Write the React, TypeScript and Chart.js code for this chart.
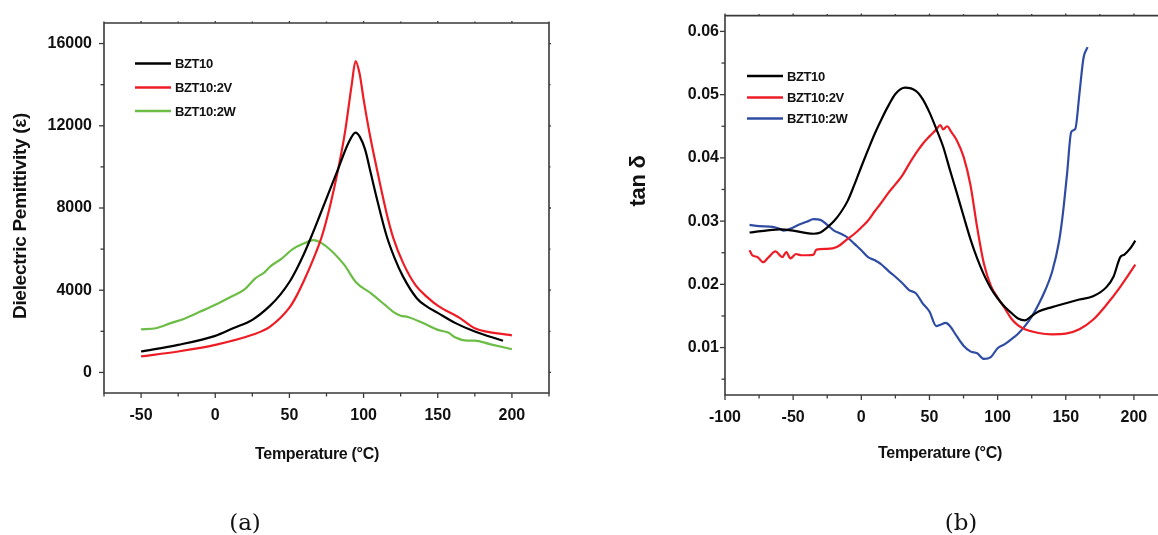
import React, { useEffect, useRef } from "react";
import { Chart, registerables } from "chart.js";
Chart.register(...registerables);

// ---------- Panel (a): Dielectric permittivity ----------
const tempA_BZT10 = [-50, -25, 0, 12, 25, 37, 44, 50, 55, 60, 65, 70, 76, 83, 89.7, 94.6, 97.5, 101, 105, 108.8, 115.5, 121, 126.7, 136, 142.5, 150, 162, 175, 194];
const epsA_BZT10 = [1020, 1340, 1780, 2150, 2560, 3250, 3800, 4400, 5050, 5800, 6650, 7550, 8650, 9930, 11150, 11670, 11460, 10850, 9650, 8500, 6650, 5550, 4650, 3600, 3210, 2900, 2400, 1990, 1540];

const tempA_2V = [-50, -25, 0, 25, 37, 50, 55, 60, 64, 68, 72, 77.4, 83, 87.5, 92, 94.6, 97.3, 100, 104, 108.8, 115.5, 120, 126.7, 135, 142.5, 150, 165, 175, 200];
const epsA_2V = [780, 1020, 1340, 1830, 2230, 3150, 3750, 4500, 5150, 5850, 6650, 8100, 9930, 11700, 14000, 15150, 14540, 13300, 11650, 9950, 7750, 6550, 5320, 4250, 3690, 3250, 2640, 2150, 1800];

const tempA_2W = [-50, -40, -30, -20, -10, 0, 10, 20, 27, 33, 37, 45, 52, 60, 66, 72, 80, 87, 95, 105, 115, 120, 125, 130, 140, 150, 157, 162, 170, 175, 185, 200];
const epsA_2W = [2100, 2150, 2400, 2640, 2960, 3290, 3660, 4050, 4580, 4860, 5150, 5550, 5990, 6280, 6440, 6280, 5800, 5230, 4380, 3850, 3250, 2950, 2760, 2700, 2400, 2070, 1940, 1700, 1550, 1550, 1380, 1130];

const xTicksA = [-50, 0, 50, 100, 150, 200];
const xMinorA = [-75, -25, 25, 75, 125, 175, 225];
const yTicksA = [0, 4000, 8000, 12000, 16000];
const yMinorA = [2000, 6000, 10000, 14000];

// ---------- Panel (b): tan delta ----------
const tempB_BZT10 = [-82, -70, -60, -50, -40, -35, -30, -25, -20, -15, -10, -5, 0, 5, 10, 15, 20, 25, 32, 40, 45, 50, 55, 60, 65, 70, 75, 80, 85, 90, 95, 100, 105, 110, 115, 120, 125, 130, 140, 150, 160, 170, 180, 185, 190, 193, 197, 201];
const tanB_BZT10 = [0.0282, 0.0285, 0.0287, 0.0285, 0.0281, 0.028, 0.0282, 0.029, 0.03, 0.0314, 0.0332, 0.0358, 0.0386, 0.0413, 0.0439, 0.0462, 0.0483, 0.0501, 0.0511, 0.0506, 0.0493, 0.0472, 0.0446, 0.0418, 0.0381, 0.0345, 0.0308, 0.0272, 0.0241, 0.0215, 0.0194, 0.0178, 0.0165, 0.0155, 0.0146, 0.0143, 0.015, 0.0157, 0.0164, 0.017, 0.0176, 0.0181, 0.0196, 0.0212, 0.0243, 0.0247, 0.0256, 0.0269];

const tempB_2V = [-82, -80, -76, -72, -68, -63, -58, -55, -52, -48, -44, -40, -35, -33, -25, -18, -10, -5, 0, 5, 10, 15, 20, 25, 30, 35, 40, 45, 50, 55, 58, 60, 63, 66, 70, 75, 80, 85, 90, 95, 100, 105, 110, 115, 120, 130, 140, 150, 160, 170, 180, 190, 201];
const tanB_2V = [0.0254, 0.0246, 0.0243, 0.0235, 0.0243, 0.0252, 0.0243, 0.0251, 0.0241, 0.0248, 0.0246, 0.0246, 0.0247, 0.0255, 0.0256, 0.0259, 0.0272, 0.028, 0.029, 0.0301, 0.0316, 0.033, 0.0345, 0.0358, 0.0372, 0.039, 0.0407, 0.0422, 0.0434, 0.0445, 0.0452, 0.0445, 0.045, 0.0441, 0.0428, 0.0402, 0.0358, 0.029, 0.0232, 0.0198, 0.0179, 0.0163, 0.0146, 0.0135, 0.0129, 0.0123, 0.0121, 0.0122, 0.0129, 0.0144, 0.0168, 0.0196, 0.0231];

const tempB_2W = [-82, -75, -65, -60, -57, -50, -45, -40, -35, -30, -25, -20, -15, -10, -5, 0, 5, 10, 15, 20, 25, 30, 35, 40, 45, 50, 55, 58, 62, 65, 70, 75, 80, 85, 90, 95, 100, 105, 110, 115, 120, 125, 130, 135, 140, 145, 148, 151, 154, 157, 160, 163, 166];
const tanB_2W = [0.0294, 0.0292, 0.0291, 0.0288, 0.0285, 0.029, 0.0295, 0.0299, 0.0303, 0.0302, 0.0294, 0.0285, 0.028, 0.0274, 0.0264, 0.0254, 0.0243, 0.0238, 0.0231, 0.0221, 0.0212, 0.0202, 0.0191, 0.0186, 0.017, 0.0157, 0.0134, 0.0136, 0.0139, 0.0134, 0.0118, 0.0103, 0.0094, 0.0091, 0.0082, 0.0085, 0.0099, 0.0105, 0.0113, 0.0122, 0.0134, 0.0149, 0.0168, 0.0191, 0.022, 0.0267, 0.0314, 0.0376, 0.0441, 0.0446, 0.0501, 0.0558, 0.0575];

const xTicksB = [-100, -50, 0, 50, 100, 150, 200];
const xMinorB = [-75, -25, 25, 75, 125, 175];
const yTicksB = [0.01, 0.02, 0.03, 0.04, 0.05, 0.06];
const yMinorB = [0.005, 0.015, 0.025, 0.035, 0.045, 0.055];

const seriesLabels = ["BZT10", "BZT10:2V", "BZT10:2W"];
const BLACK = "#000000";
const RED = "#ee1c24";
const GREEN = "#6cbd45";
const BLUE = "#2f4ca3";

const FONT = '"Liberation Sans", Arial, sans-serif';

const pts = (xs: number[], ys: number[]) => xs.map((x, i) => ({ x, y: ys[i] }));

type Decor = {
  xMajor: number[];
  xMinor: number[];
  yMajor: number[];
  yMinor: number[];
  legendX0: number;
  legendX1: number;
  legendTextX: number;
  legendY: number[];
  xTitle: string;
  xTitleX: number;
  xTitleY: number;
  yTitle: string;
  yTitleX: number;
  yTitleY: number;
  yTitleSize: number;
};

function decorPlugin(p: Decor) {
  return {
    id: "decor",
    afterDraw(chart: any) {
      const { ctx, chartArea: a } = chart;
      const xs = chart.scales.x;
      const ys = chart.scales.y;
      ctx.save();
      const seg = (x1: number, y1: number, x2: number, y2: number) => {
        ctx.beginPath();
        ctx.moveTo(x1, y1);
        ctx.lineTo(x2, y2);
        ctx.stroke();
      };
      ctx.strokeStyle = "#3a3a3a";
      ctx.lineWidth = 1.6;
      ctx.beginPath();
      ctx.rect(a.left, a.top, a.right - a.left, a.bottom - a.top);
      ctx.stroke();
      ctx.lineWidth = 1.3;
      p.xMajor.forEach((v) => {
        const px = xs.getPixelForValue(v);
        seg(px, a.bottom, px, a.bottom + 5);
        seg(px, a.top, px, a.top - 2);
      });
      p.xMinor.forEach((v) => {
        const px = xs.getPixelForValue(v);
        if (px < a.left || px > a.right) return;
        seg(px, a.bottom, px, a.bottom + 3.5);
        seg(px, a.top, px, a.top - 1.5);
      });
      p.yMajor.forEach((v) => {
        const py = ys.getPixelForValue(v);
        seg(a.left - 5, py, a.left, py);
        seg(a.right, py, a.right + 2, py);
      });
      p.yMinor.forEach((v) => {
        const py = ys.getPixelForValue(v);
        if (py < a.top || py > a.bottom) return;
        seg(a.left - 3.5, py, a.left, py);
        seg(a.right, py, a.right + 1.5, py);
      });

      // legend
      ctx.font = `bold 13px ${FONT}`;
      (ctx as any).letterSpacing = "-0.4px";
      ctx.textBaseline = "middle";
      ctx.textAlign = "left";
      ctx.fillStyle = "#111";
      chart.data.datasets.forEach((ds: any, i: number) => {
        const y = p.legendY[i];
        ctx.strokeStyle = ds.borderColor;
        ctx.lineWidth = 2.6;
        seg(p.legendX0, y, p.legendX1, y);
        ctx.fillText(ds.label, p.legendTextX, y + 1);
      });

      // axis titles
      (ctx as any).letterSpacing = "-0.3px";
      ctx.fillStyle = "#111";
      ctx.font = `bold 16px ${FONT}`;
      ctx.textAlign = "center";
      ctx.fillText(p.xTitle, p.xTitleX, p.xTitleY);
      ctx.translate(p.yTitleX, p.yTitleY);
      ctx.rotate(-Math.PI / 2);
      ctx.font = `bold ${p.yTitleSize}px ${FONT}`;
      ctx.fillText(p.yTitle, 0, 0);
      ctx.restore();
    },
  };
}

function makeConfig(opts: {
  datasets: any[];
  xMin: number;
  xMax: number;
  yMin: number;
  yMax: number;
  xTicks: number[];
  yTicks: number[];
  yFmt: (v: number) => string;
  yWidth: number;
  xHeight: number;
  padTop: number;
  padRight: number;
  yPad: number;
  decor: Decor;
}): any {
  const tickFont = { family: FONT, size: 16, weight: "bold" as const };
  return {
    type: "line",
    data: { datasets: opts.datasets },
    options: {
      animation: false,
      responsive: false,
      maintainAspectRatio: false,
      parsing: false,
      layout: { padding: { left: 0, right: opts.padRight, top: opts.padTop, bottom: 0 } },
      plugins: { legend: { display: false }, tooltip: { enabled: false } },
      elements: {
        point: { radius: 0 },
        line: { borderWidth: 2.2, cubicInterpolationMode: "monotone" },
      },
      scales: {
        x: {
          type: "linear",
          min: opts.xMin,
          max: opts.xMax,
          grid: { display: false, drawTicks: false },
          border: { display: false },
          afterFit: (s: any) => {
            s.height = opts.xHeight;
          },
          afterBuildTicks: (s: any) => {
            s.ticks = opts.xTicks.map((v) => ({ value: v }));
          },
          ticks: {
            font: tickFont,
            color: "#111",
            padding: 13,
            maxRotation: 0,
            autoSkip: false,
            callback: (v: number) => String(v),
          },
        },
        y: {
          type: "linear",
          min: opts.yMin,
          max: opts.yMax,
          grid: { display: false, drawTicks: false },
          border: { display: false },
          afterFit: (s: any) => {
            s.width = opts.yWidth;
          },
          afterBuildTicks: (s: any) => {
            s.ticks = opts.yTicks.map((v) => ({ value: v }));
          },
          ticks: {
            font: tickFont,
            color: "#111",
            padding: opts.yPad,
            autoSkip: false,
            callback: (v: number) => opts.yFmt(v),
          },
        },
      },
    },
    plugins: [decorPlugin(opts.decor)],
  };
}

export default function App() {
  const refA = useRef<HTMLCanvasElement>(null);
  const refB = useRef<HTMLCanvasElement>(null);

  useEffect(() => {
    const cfgA = makeConfig({
      datasets: [
        { label: seriesLabels[0], data: pts(tempA_BZT10, epsA_BZT10), borderColor: BLACK },
        { label: seriesLabels[1], data: pts(tempA_2V, epsA_2V), borderColor: RED },
        { label: seriesLabels[2], data: pts(tempA_2W, epsA_2W), borderColor: GREEN },
      ],
      xMin: -75,
      xMax: 225,
      yMin: -1000,
      yMax: 17000,
      xTicks: xTicksA,
      yTicks: yTicksA,
      yFmt: (v) => String(v),
      yWidth: 104,
      xHeight: 142,
      padTop: 23,
      padRight: 31,
      yPad: 12,
      decor: {
        xMajor: xTicksA,
        xMinor: xMinorA,
        yMajor: yTicksA,
        yMinor: yMinorA,
        legendX0: 135,
        legendX1: 171,
        legendTextX: 175,
        legendY: [63.5, 87.5, 111],
        xTitle: "Temperature (°C)",
        xTitleX: 317,
        xTitleY: 455,
        yTitle: "Dielectric Pemittivity (ε)",
        yTitleX: 21,
        yTitleY: 216,
        yTitleSize: 19,
      },
    });
    const cfgB = makeConfig({
      datasets: [
        { label: seriesLabels[0], data: pts(tempB_BZT10, tanB_BZT10), borderColor: BLACK },
        { label: seriesLabels[1], data: pts(tempB_2V, tanB_2V), borderColor: RED },
        { label: seriesLabels[2], data: pts(tempB_2W, tanB_2W), borderColor: BLUE },
      ],
      xMin: -100,
      xMax: 225,
      yMin: 0.0025,
      yMax: 0.0625,
      xTicks: xTicksB,
      yTicks: yTicksB,
      yFmt: (v) => v.toFixed(2),
      yWidth: 145,
      xHeight: 140,
      padTop: 12,
      padRight: 32,
      yPad: 6,
      decor: {
        xMajor: xTicksB,
        xMinor: xMinorB,
        yMajor: yTicksB,
        yMinor: yMinorB,
        legendX0: 167,
        legendX1: 203,
        legendTextX: 207,
        legendY: [76, 97.5, 118.5],
        xTitle: "Temperature (°C)",
        xTitleX: 360,
        xTitleY: 454,
        yTitle: "tan δ",
        yTitleX: 59,
        yTitleY: 181,
        yTitleSize: 22,
      },
    });
    const ca = new Chart(refA.current as HTMLCanvasElement, cfgA);
    const cb = new Chart(refB.current as HTMLCanvasElement, cfgB);
    return () => {
      ca.destroy();
      cb.destroy();
    };
  }, []);

  const capStyle: React.CSSProperties = {
    position: "absolute",
    top: 522,
    transform: "translate(-50%, -50%)",
    font: '23px "DejaVu Serif", serif',
    color: "#111",
    whiteSpace: "nowrap",
  };

  return (
    <div
      style={{
        position: "fixed",
        left: 0,
        top: 0,
        width: 1158,
        height: 535,
        overflow: "hidden",
        background: "#fff",
      }}
    >
      <canvas ref={refA} width={580} height={535} style={{ position: "absolute", left: 0, top: 0 }} />
      <canvas ref={refB} width={620} height={535} style={{ position: "absolute", left: 580, top: 0 }} />
      <div style={{ ...capStyle, left: 245 }}>(a)</div>
      <div style={{ ...capStyle, left: 961 }}>(b)</div>
    </div>
  );
}
